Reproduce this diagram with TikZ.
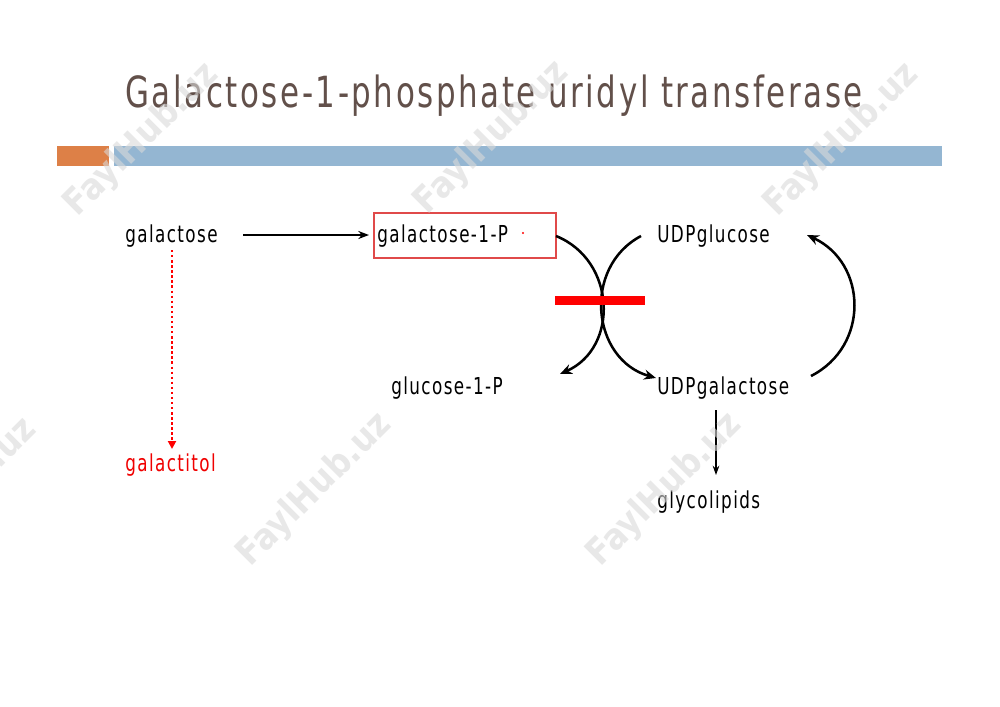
\documentclass[tikz,border=0pt]{standalone}
\usepackage{fontspec}
\setmainfont{DejaVu Sans}[FakeStretch=0.72, LetterSpace=6]
\newfontfamily\wmfont{DejaVu Sans}[FakeStretch=0.9]
\usetikzlibrary{arrows.meta}
\definecolor{titlecol}{HTML}{62504A}
\definecolor{barorange}{HTML}{DD8047}
\definecolor{barblue}{HTML}{94B6D2}
\definecolor{boxred}{HTML}{E04A4A}
\definecolor{redtxt}{HTML}{F00000}
\tikzset{
  lbl/.style={anchor=base west, inner sep=0pt, font=\fontsize{17.5}{20}\selectfont},
  curvearrow/.style={line width=1.9pt, -{Stealth[length=9pt,width=7.5pt]}},
  wm/.style={rotate=45, text=gray!30, opacity=0.6, font=\wmfont\bfseries\fontsize{27}{30}\selectfont}
}
\begin{document}
\begin{tikzpicture}[x=0.75pt,y=-0.75pt]
\useasboundingbox (0,0) rectangle (1000,707);
\fill[white] (0,0) rectangle (1000,707);
% title and bars
\node[anchor=base west, inner sep=0pt, text=titlecol, font=\fontsize{32.2}{40}\selectfont] (title) at (125,107) {Galactose-1-phosphate uridyl transferase};
\fill[barorange] (57,146) rectangle (109,166);
\fill[barblue] (114,146) rectangle (942,166);
% labels
\node[lbl] (gal) at (125,242) {galactose};
\node[draw=boxred, line width=0.8pt, minimum width=136.5pt, minimum height=33.75pt, inner sep=0pt] (g1pbox) at (465,235.5) {};
\node[lbl] (g1p) at (377,242) {galactose-1-P};
\fill[red] (523,233) circle (1.2);
\node[lbl] (udpglc) at (657,242) {UDPglucose};
\node[lbl] (glc1p) at (391,394) {glucose-1-P};
\node[lbl] (udpgal) at (657,394) {UDPgalactose};
\node[lbl, text=redtxt] (galtol) at (125,471) {galactitol};
\node[lbl] (glyco) at (657,508) {glycolipids};
% connector end points
\coordinate (c1s) at (556,236);
\coordinate (c1e) at (560,374);
\coordinate (c2s) at (641,236);
\coordinate (c2e) at (656,378);
\coordinate (c3s) at (811,376);
\coordinate (c3e) at (807,235);
\coordinate (galS) at (243,235);
\coordinate (galE) at (369,235);
\coordinate (dotS) at (172,250);
\coordinate (dotE) at (172,449);
\coordinate (glyS) at (716,410);
\coordinate (glyE) at (716,475);
% connectors
\draw[line width=1.5pt, -{Stealth[length=8pt,width=6pt]}] (galS) -- (galE);
\draw[red, line width=1.8pt, dotted, -{Triangle[length=6pt,width=6pt]}] (dotS) -- (dotE);
\draw[line width=0.8pt, -{Stealth[length=7pt,width=5pt]}] (glyS) -- (glyE);
\draw[curvearrow] (c1s) to[out=-22, in=24, looseness=1.2] (c1e);
\draw[curvearrow] (c2s) to[out=-152, in=164, looseness=1.2] (c2e);
\draw[curvearrow] (c3s) to[out=27, in=-25, looseness=1.2] (c3e);
% inhibition bar
\fill[red] (555,296) rectangle (645,305);
% watermarks
\foreach \cx/\cy in {142/140, 492/138, 842/140, 315/490, 665/490, -40/495}
  \node[wm] at (\cx,\cy) {FaylHub.uz};
\end{tikzpicture}
\end{document}
